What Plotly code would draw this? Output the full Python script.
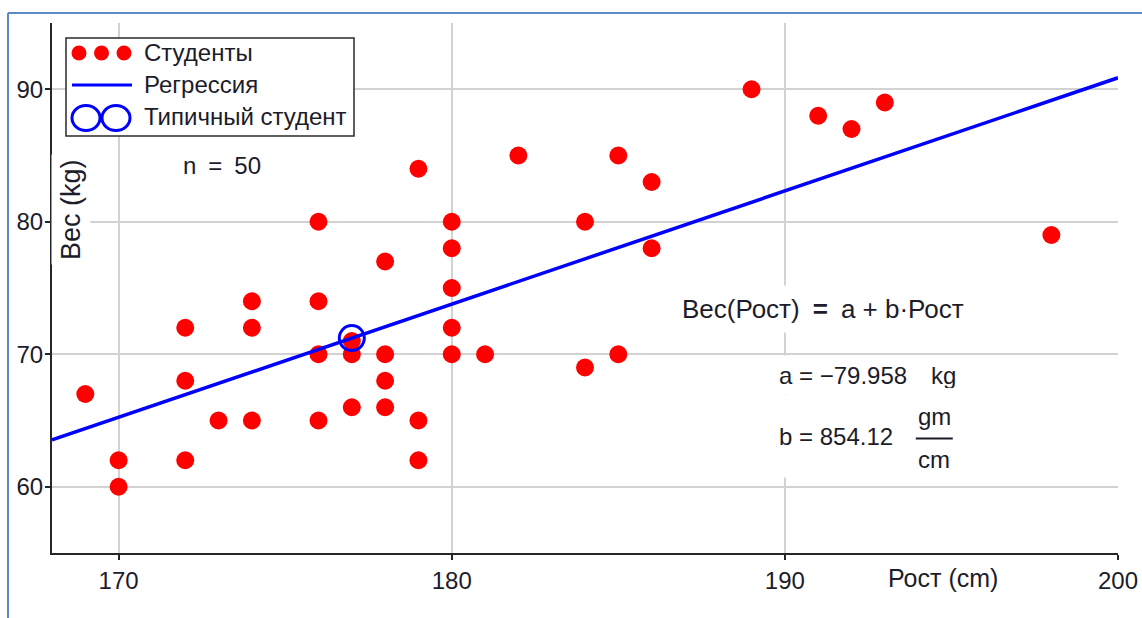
import plotly.graph_objects as go

# Student heights (cm) and weights (kg)
height_cm = [169, 170, 170, 172, 172, 172, 173, 174, 174, 174,
             176, 176, 176, 176, 177, 177, 177, 178, 178, 178, 178,
             179, 179, 179, 180, 180, 180, 180, 180, 181, 182,
             184, 184, 185, 185, 186, 186, 189, 191, 192, 193, 198]
weight_kg = [67, 62, 60, 72, 68, 62, 65, 74, 72, 65,
             80, 74, 70, 65, 71, 70, 66, 77, 70, 68, 66,
             84, 65, 62, 80, 78, 75, 72, 70, 70, 85,
             80, 69, 85, 70, 83, 78, 90, 88, 87, 89, 79]

# Regression coefficients
a_kg = -79.958
b_gm_per_cm = 854.12
b_kg_per_cm = b_gm_per_cm / 1000.0

# Typical (mean) student
typical_height = 177.0
typical_weight = a_kg + b_kg_per_cm * typical_height

n_students = 50

x_ticks = [170, 180, 190, 200]
y_ticks = [60, 70, 80, 90]
x_range = [168, 200]
y_range = [55, 95]

FONT = "Liberation Sans, Arial, sans-serif"
TXT = "#1c1c2a"
FS = 24

W, H = 1142, 618
ML, MR, MT, MB = 52, 24, 23, 65
PW, PH = W - ML - MR, H - MT - MB


def px(xp):
    return (xp - ML) / PW


def py(yp):
    return (H - MB - yp) / PH


line_x = [x_range[0], x_range[1]]
line_y = [a_kg + b_kg_per_cm * v for v in line_x]

fig = go.Figure()
fig.add_trace(go.Scatter(
    x=height_cm, y=weight_kg, mode="markers", name="Студенты",
    marker=dict(color="#ff0000", size=18, line=dict(width=0)),
    showlegend=False, cliponaxis=False,
))
fig.add_trace(go.Scatter(
    x=line_x, y=line_y, mode="lines", name="Регрессия",
    line=dict(color="#0000ff", width=3.5), showlegend=False,
))
fig.add_trace(go.Scatter(
    x=[typical_height], y=[typical_weight], mode="markers",
    name="Типичный студент",
    marker=dict(symbol="circle-open", color="#0000ff", size=25,
                line=dict(width=3, color="#0000ff")),
    showlegend=False,
))

shapes = []
# outer frame (left and top edges)
frame = "#5a8ac8"
shapes.append(dict(type="line", xref="paper", yref="paper",
                   x0=px(8), x1=px(8), y0=py(13), y1=py(H + 5),
                   line=dict(color=frame, width=2)))
shapes.append(dict(type="line", xref="paper", yref="paper",
                   x0=px(8), x1=px(W + 5), y0=py(13), y1=py(13),
                   line=dict(color=frame, width=2)))

# legend box
shapes.append(dict(type="rect", xref="paper", yref="paper",
                   x0=px(66), x1=px(354), y0=py(38), y1=py(136),
                   fillcolor="white", line=dict(color="#2a2a2a", width=1.5),
                   layer="above"))
# legend symbols
for cx in (79, 101.5, 124):
    shapes.append(dict(type="circle", xref="paper", yref="paper",
                       xsizemode="pixel", ysizemode="pixel",
                       xanchor=px(cx), yanchor=py(53),
                       x0=-7.5, x1=7.5, y0=-7.5, y1=7.5,
                       fillcolor="#ff0000", line=dict(width=0), layer="above"))
shapes.append(dict(type="line", xref="paper", yref="paper",
                   x0=px(72), x1=px(132), y0=py(85), y1=py(85),
                   line=dict(color="#0000ff", width=3), layer="above"))
for cx in (86, 116):
    shapes.append(dict(type="circle", xref="paper", yref="paper",
                       xsizemode="pixel", ysizemode="pixel",
                       xanchor=px(cx), yanchor=py(118),
                       x0=-14, x1=14, y0=-12.5, y1=12.5,
                       fillcolor="rgba(0,0,0,0)",
                       line=dict(color="#0000ff", width=3), layer="above"))

annotations = []
for label, yy in (("Студенты", 53), ("Регрессия", 85), ("Типичный студент", 117)):
    annotations.append(dict(text=label, xref="paper", yref="paper",
                            x=px(142), y=py(yy), xanchor="left", yanchor="middle",
                            showarrow=False, font=dict(size=FS, color=TXT, family=FONT)))

annotations.append(dict(text=f"n\u2002=\u2002{n_students}", xref="paper", yref="paper",
                        x=px(222), y=py(165), xanchor="center", yanchor="middle",
                        showarrow=False, font=dict(size=FS, color=TXT, family=FONT)))

# axis titles
annotations.append(dict(text="Вес (kg)", xref="paper", yref="paper",
                        x=px(71), y=py(210), textangle=-90,
                        xanchor="center", yanchor="middle", showarrow=False,
                        bgcolor="white", borderpad=4,
                        font=dict(size=27, color=TXT, family=FONT)))
annotations.append(dict(text="Рост (cm)", xref="paper", yref="paper",
                        x=px(943), y=py(578), xanchor="center", yanchor="middle",
                        showarrow=False, font=dict(size=25, color=TXT, family=FONT)))

# regression equation
annotations.append(dict(text="Вес(Рост)\u2002<b>=</b>\u2002a + b·Рост", xref="x", yref="y",
                        x=191.15, y=73.38, xanchor="center", yanchor="middle",
                        showarrow=False, bgcolor="white", borderpad=8,
                        font=dict(size=26, color=TXT, family=FONT)))
annotations.append(dict(text=f"a = \u2212{abs(a_kg):.3f}\u2002\u2002kg", xref="x", yref="y",
                        x=189.62, y=68.47, xanchor="left", yanchor="middle",
                        height=26, showarrow=False, bgcolor="white", borderpad=6,
                        font=dict(size=FS, color=TXT, family=FONT)))
annotations.append(dict(text=f"b = {b_gm_per_cm:.2f}", xref="x", yref="y",
                        x=189.62, y=63.8, xanchor="left", yanchor="middle",
                        height=70, showarrow=False, bgcolor="white", borderpad=6,
                        font=dict(size=FS, color=TXT, family=FONT)))
annotations.append(dict(text="gm", xref="x", yref="y",
                        x=194.48, y=65.3, xanchor="center", yanchor="middle",
                        showarrow=False,
                        font=dict(size=FS, color=TXT, family=FONT)))
annotations.append(dict(text="cm", xref="x", yref="y",
                        x=194.48, y=62.05, xanchor="center", yanchor="middle",
                        showarrow=False,
                        font=dict(size=FS, color=TXT, family=FONT)))
shapes.append(dict(type="line", xref="x", yref="y",
                   x0=193.93, x1=195.04, y0=63.65, y1=63.65,
                   line=dict(color=TXT, width=2), layer="above"))

grid = "#d2d2d2"
fig.update_layout(
    width=W, height=H,
    margin=dict(l=ML, r=MR, t=MT, b=MB),
    paper_bgcolor="white", plot_bgcolor="white",
    showlegend=False,
    shapes=shapes, annotations=annotations,
    xaxis=dict(range=x_range, tickvals=x_ticks, ticktext=[str(v) for v in x_ticks],
               showgrid=True, gridcolor=grid, gridwidth=2,
               showline=True, linecolor="#262626", linewidth=2, mirror=False,
               ticks="outside", ticklen=5, tickwidth=2, tickcolor="#262626",
               zeroline=False, ticklabeloverflow="allow", automargin=False,
               tickfont=dict(size=FS, color=TXT, family=FONT)),
    yaxis=dict(range=y_range, tickvals=y_ticks, ticktext=[str(v) for v in y_ticks],
               showgrid=True, gridcolor=grid, gridwidth=2,
               showline=True, linecolor="#262626", linewidth=2, mirror=False,
               ticks="outside", ticklen=5, tickwidth=2, tickcolor="#262626",
               zeroline=False, ticklabelstandoff=-3, automargin=False,
               tickfont=dict(size=FS, color=TXT, family=FONT)),
)

fig.write_html("out.html")
